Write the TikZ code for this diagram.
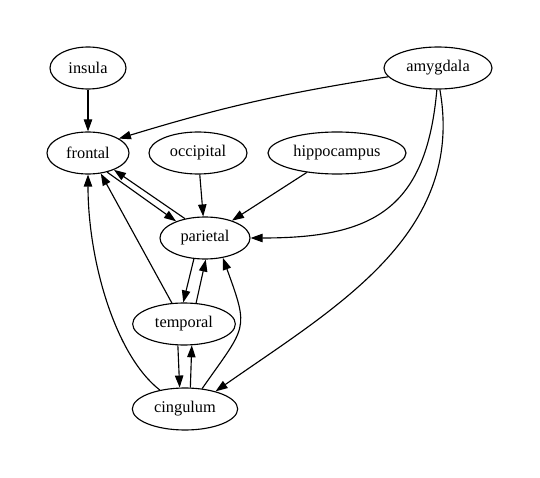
\documentclass[tikz,border=0pt]{standalone}
\usepackage{fontspec}
\setmainfont{Liberation Serif}
\usetikzlibrary{arrows.meta, shapes.geometric}

\tikzset{
	region/.style={draw, ellipse, line width=0.85pt, inner sep=0pt,
		minimum height=31.5pt, font=\fontsize{12.25}{14}\selectfont},
	link/.style={->, line width=0.85pt},
}

\begin{document}
\begin{tikzpicture}[x=0.75pt, y=-0.75pt, >={Triangle[length=9pt, width=6.3pt]}]
	\useasboundingbox (0,0) rectangle (540,478);

	% regions
	\node[region, minimum width=57pt]    (insula)   at (88,68)   {insula};
	\node[region, minimum width=81pt]    (amygdala) at (438,68)  {amygdala};
	\node[region, minimum width=61.5pt]  (frontal)  at (88,153)  {frontal};
	\node[region, minimum width=73.5pt]  (occipital) at (198,153) {occipital};
	\node[region, minimum width=103.5pt] (hippo)    at (337,153) {hippocampus};
	\node[region, minimum width=67.5pt]  (parietal) at (205,238) {parietal};
	\node[region, minimum width=77pt]    (temporal) at (184,324) {temporal};
	\node[region, minimum width=79pt]    (cingulum) at (185,409) {cingulum};

	% connections
	\draw[link] (insula) -- (frontal);
	\draw[link] (amygdala.190) to[bend right=4] (frontal.25);
	\draw[link] (occipital) -- (parietal);
	\draw[link] (hippo) -- (parietal);
	\draw[link] (amygdala.-93) to[out=-95, in=0, looseness=1.3] (parietal.east);
	\draw[link] (amygdala.-85) to[out=-80, in=35] (cingulum.30);

	\draw[link] (frontal.-45) -- (parietal.150);
	\draw[link] (parietal.136) -- (frontal.-33);
	\draw[link] (temporal.120) -- (frontal.-58);
	\draw[link] (cingulum.143) .. controls (115,355) and (88,260) .. (frontal.south);

	\draw[link] (parietal.-118) -- (temporal.92);
	\draw[link] (temporal.60) -- (parietal.-88);
	\draw[link] (temporal.-106) -- (cingulum.104);
	\draw[link] (cingulum.76) -- (temporal.-70);
	\draw[link] (cingulum.50) to[out=55, in=-70, looseness=1.5] (parietal.-48);
\end{tikzpicture}
\end{document}
